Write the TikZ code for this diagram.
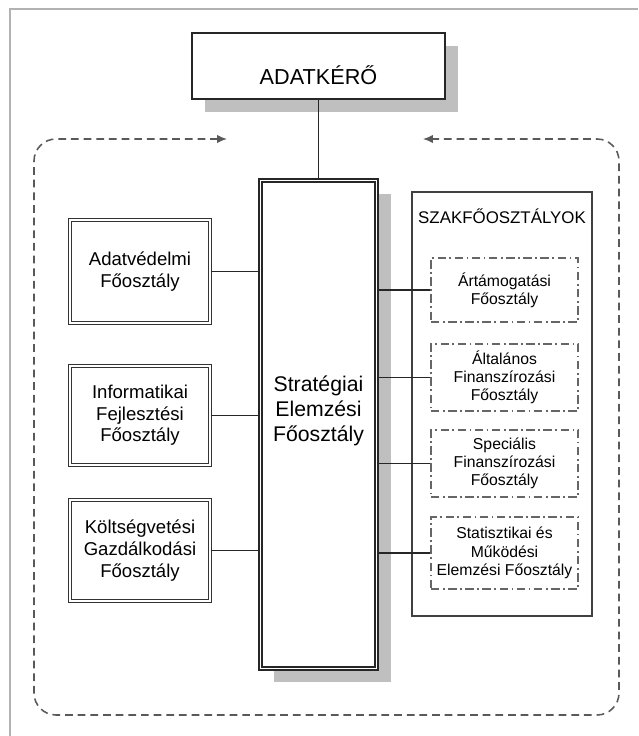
\documentclass[tikz,border=0pt]{standalone}
\usepackage{fontspec}
\setmainfont{Liberation Sans}
\usetikzlibrary{arrows.meta, positioning, shadows}
\tikzset{
  topbox/.style={
    rectangle, draw=black!85, line width=1.2pt, fill=white,
    drop shadow={shadow xshift=0.33cm, shadow yshift=-0.33cm, fill=black!25, opacity=1},
    minimum width=6.325cm, minimum height=1.65cm
  },
  mainbox/.style={
    rectangle, draw=black!85, line width=1.1pt, double=white, double distance=0.9pt,
    fill=white,
    drop shadow={shadow xshift=0.35cm, shadow yshift=-0.33cm, fill=black!25, opacity=1},
    minimum width=2.9cm, minimum height=12.2cm
  },
  deptbox/.style={
    rectangle, draw=black!80, line width=0.8pt, double=white, double distance=0.8pt,
    fill=white, minimum width=3.5cm, minimum height=#1,
    align=center, font=\fontsize{13.2pt}{15.4pt}\selectfont
  },
  groupbox/.style={
    rectangle, draw=black!75, line width=1pt,
    minimum width=4.5cm, minimum height=10.6cm
  },
  subbox/.style={
    rectangle, draw=black!60, line width=0.9pt,
    dash pattern=on 6pt off 2.5pt on 1.2pt off 2.5pt,
    minimum width=3.675cm, minimum height=#1, inner sep=2pt,
    align=center, font=\fontsize{11.2pt}{13pt}\selectfont
  },
  link/.style={draw=black!85, line width=0.9pt},
  loopline/.style={
    {Latex[length=7pt,width=6pt]}-{Latex[length=7pt,width=6pt]},
    draw=black!65, line width=1.1pt, dash pattern=on 5.5pt off 3.5pt,
    rounded corners=0.55cm
  }
}

\begin{document}
\begin{tikzpicture}[x=0.025cm, y=-0.025cm]
  \useasboundingbox (0,0) rectangle (638,736);
  % screenshot frame
  \draw[black!30, line width=1.4pt] (10,736) -- (10,9) -- (638,9);

  % loop round the whole unit
  \coordinate (loopL) at (227,139);
  \coordinate (loopR) at (423,139);
  \draw[loopline] (loopL) -- (34,139) -- (34,715) -- (619,715) -- (619,139) -- (loopR);

  \node[topbox] (adatkero) at (318.5,66) {};
  \node[anchor=base, font=\fontsize{15.4pt}{18pt}\selectfont] (adatkerotxt) at (318.5,85) {ADATKÉRŐ};

  \node[mainbox] (strat) at (318.5,424.5) {};
  \node[align=center, font=\fontsize{15.1pt}{17.8pt}\selectfont] (strattxt) at (318.5,411)
    {Stratégiai\\Elemzési\\Főosztály};

  \node[deptbox=2.575cm] (adatv) at (140,271.5) {Adatvédelmi\\Főosztály};
  \node[deptbox=2.475cm] (infor) at (140,415.5) {Informatikai\\Fejlesztési\\Főosztály};
  \node[deptbox=2.525cm] (koltseg) at (140,550.5) {Költségvetési\\Gazdálkodási\\Főosztály};

  \node[groupbox] (szak) at (502,404) {};
  \node[font=\fontsize{12pt}{14pt}\selectfont] (szaktxt) at (502,216) {SZAKFŐOSZTÁLYOK};

  \node[subbox=1.6cm] (artam) at (504.5,290) {Ártámogatási\\Főosztály};
  \node[subbox=1.675cm] (altal) at (504.5,377.5) {Általános\\Finanszírozási\\Főosztály};
  \node[subbox=1.675cm] (spec) at (504.5,463.5) {Speciális\\Finanszírozási\\Főosztály};
  \node[subbox=1.8cm] (statisz) at (504.5,553) {Statisztikai és\\Működési\\Elemzési Főosztály};

  \draw[link, line width=0.7pt] (adatkero) -- (strat);
  \foreach \d in {adatv, infor, koltseg}
    \draw[link] (\d.east) -- (\d.east -| strat.west);
  \foreach \s in {artam, altal, spec, statisz}
    \draw[link] (\s.west -| strat.east) -- (\s.west);
\end{tikzpicture}
\end{document}
